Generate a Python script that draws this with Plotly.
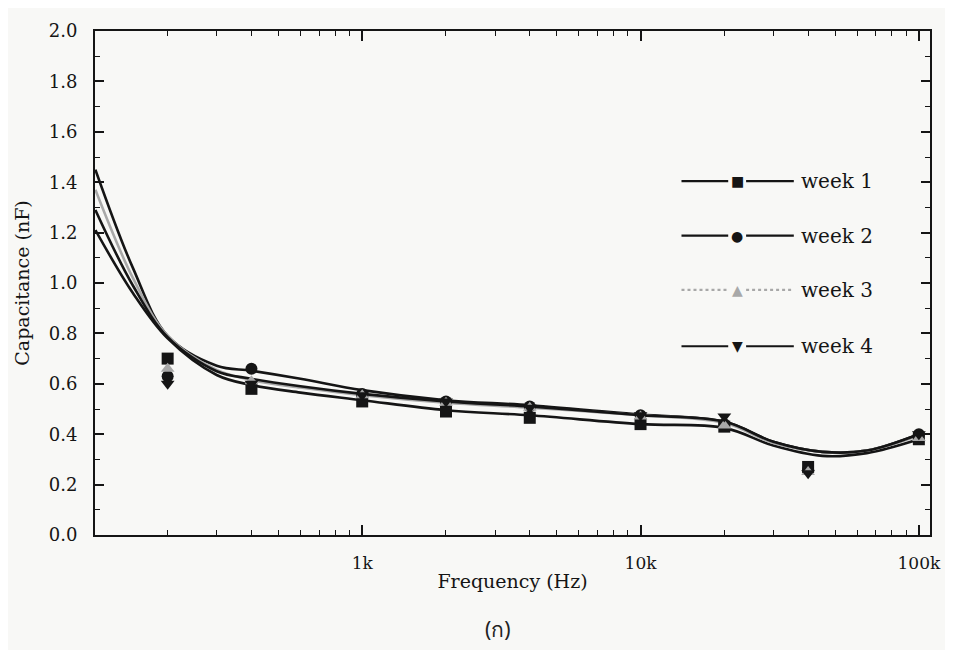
import plotly.graph_objects as go

# ---------------- data ----------------
freq = [200, 400, 1000, 2000, 4000, 10000, 20000, 40000, 100000]
week1 = [0.70, 0.58, 0.53, 0.49, 0.465, 0.44, 0.43, 0.27, 0.38]
week2 = [0.63, 0.66, 0.56, 0.53, 0.51, 0.475, 0.44, 0.26, 0.40]
week3 = [0.66, 0.61, 0.555, 0.525, 0.505, 0.47, 0.435, 0.25, 0.385]
week4 = [0.60, 0.60, 0.555, 0.53, 0.505, 0.475, 0.47, 0.245, 0.40]

# smoothed fit curves
curve_freq = [110, 150, 200, 300, 400, 600, 1000, 2000, 4000, 10000, 20000, 30000, 45000, 65000, 100000]
fit1 = [1.21, 0.96, 0.78, 0.635, 0.595, 0.565, 0.535, 0.495, 0.475, 0.44, 0.425, 0.355, 0.314, 0.325, 0.38]
fit2 = [1.45, 1.06, 0.79, 0.672, 0.652, 0.62, 0.575, 0.535, 0.515, 0.478, 0.45, 0.37, 0.33, 0.335, 0.40]
fit3 = [1.37, 1.02, 0.79, 0.655, 0.615, 0.585, 0.555, 0.525, 0.505, 0.475, 0.445, 0.365, 0.33, 0.335, 0.395]
fit4 = [1.29, 0.99, 0.785, 0.65, 0.62, 0.59, 0.56, 0.53, 0.51, 0.475, 0.45, 0.37, 0.33, 0.335, 0.40]

names = ["week 1", "week 2", "week 3", "week 4"]
x_tickvals = [1000, 10000, 100000]
x_ticktext = ["1k", "10k", "100k"]
x_minor = [200, 300, 400, 500, 600, 700, 800, 900,
           2000, 3000, 4000, 5000, 6000, 7000, 8000, 9000,
           20000, 30000, 40000, 50000, 60000, 70000, 80000, 90000]
y_tickvals = [0.0, 0.2, 0.4, 0.6, 0.8, 1.0, 1.2, 1.4, 1.6, 1.8, 2.0]

# ---------------- styles ----------------
BLACK = "#151515"
GRAY = "#a8a8a8"
colors = [BLACK, BLACK, GRAY, BLACK]
symbols = ["square", "circle", "triangle-up", "triangle-down"]
glyphs = ["\u25A0", "\u25CF", "\u25B2", "\u25BC"]
SERIF = "DejaVu Serif"
BG = "#f8f8f6"

# page offset of the figure (browser body margin) is 8px
OFF = 8
W, H = 953 - OFF, 650 - OFF
plot_l, plot_r, plot_t, plot_b = 95 - OFF, 935 - OFF, 25 - OFF, 535 - OFF

fig = go.Figure()

fits = [fit1, fit2, fit3, fit4]
marks = [week1, week2, week3, week4]
for i in range(4):
    fig.add_trace(go.Scatter(
        x=curve_freq, y=fits[i], mode="lines",
        line=dict(color=colors[i], width=2.6, shape="spline", smoothing=1.0),
        showlegend=False, hoverinfo="skip"))
for i in range(4):
    fig.add_trace(go.Scatter(
        x=freq, y=marks[i], mode="markers", name=names[i],
        marker=dict(symbol=symbols[i], size=12, color=colors[i],
                    line=dict(width=0)),
        showlegend=False))

# custom legend: long line with marker in the middle (page pixel rows)
leg_y = [177, 232, 287, 344]
def px(xp):
    return (xp - OFF - plot_l) / (plot_r - plot_l)
def py(yp):
    return (plot_b - (yp - OFF)) / (plot_b - plot_t)

for i in range(4):
    yy = py(leg_y[i])
    dash = "dot" if i == 2 else "solid"
    fig.add_shape(type="line", xref="paper", yref="paper",
                  x0=px(685), x1=px(732), y0=yy, y1=yy,
                  line=dict(color=colors[i], width=2.2, dash=dash))
    fig.add_shape(type="line", xref="paper", yref="paper",
                  x0=px(750), x1=px(798), y0=yy, y1=yy,
                  line=dict(color=colors[i], width=2.2, dash=dash))
    fig.add_annotation(xref="paper", yref="paper", x=px(741), y=yy,
                       text=glyphs[i], showarrow=False,
                       font=dict(size=14, color=colors[i], family="DejaVu Sans"),
                       xanchor="center", yanchor="middle")
    fig.add_annotation(xref="paper", yref="paper", x=px(803), y=yy,
                       text=names[i], showarrow=False,
                       font=dict(size=20, color=BLACK, family=SERIF),
                       xanchor="left", yanchor="middle")

# caption
fig.add_annotation(xref="paper", yref="paper", x=px(500), y=py(630),
                   text="(ก)", showarrow=False,
                   font=dict(size=21, color="#222", family="Noto Sans, DejaVu Sans, sans-serif"),
                   xanchor="center", yanchor="middle")

fig.update_xaxes(
    type="log", range=[2.04, 5.04],
    tickvals=x_tickvals, ticktext=x_ticktext,
    ticks="inside", ticklen=10, tickwidth=1.5, tickcolor=BLACK,
    minor=dict(tickvals=x_minor, ticks="inside", ticklen=5, tickcolor=BLACK, tickwidth=1.2),
    showline=True, linecolor=BLACK, linewidth=2, mirror="ticks",
    showgrid=False, zeroline=False,
    ticklabelstandoff=12,
    tickfont=dict(family=SERIF, size=17, color=BLACK),
    title=dict(text="Frequency (Hz)", font=dict(family=SERIF, size=19, color=BLACK), standoff=2),
)
fig.update_yaxes(
    range=[0, 2.0],
    tickvals=y_tickvals, tickformat=".1f",
    ticks="inside", ticklen=9, tickwidth=1.5, tickcolor=BLACK,
    minor=dict(dtick=0.1, ticks="inside", ticklen=5, tickcolor=BLACK, tickwidth=1.2),
    showline=True, linecolor=BLACK, linewidth=2, mirror="ticks",
    showgrid=False, zeroline=False,
    ticklabelstandoff=12,
    tickfont=dict(family=SERIF, size=18, color=BLACK),
    title=dict(text="Capacitance (nF)", font=dict(family=SERIF, size=19, color=BLACK), standoff=14),
)

fig.update_layout(
    width=W, height=H,
    margin=dict(l=plot_l, r=W - plot_r, t=plot_t, b=H - plot_b),
    paper_bgcolor=BG, plot_bgcolor=BG,
    showlegend=False,
)

fig.write_html("out.html")
